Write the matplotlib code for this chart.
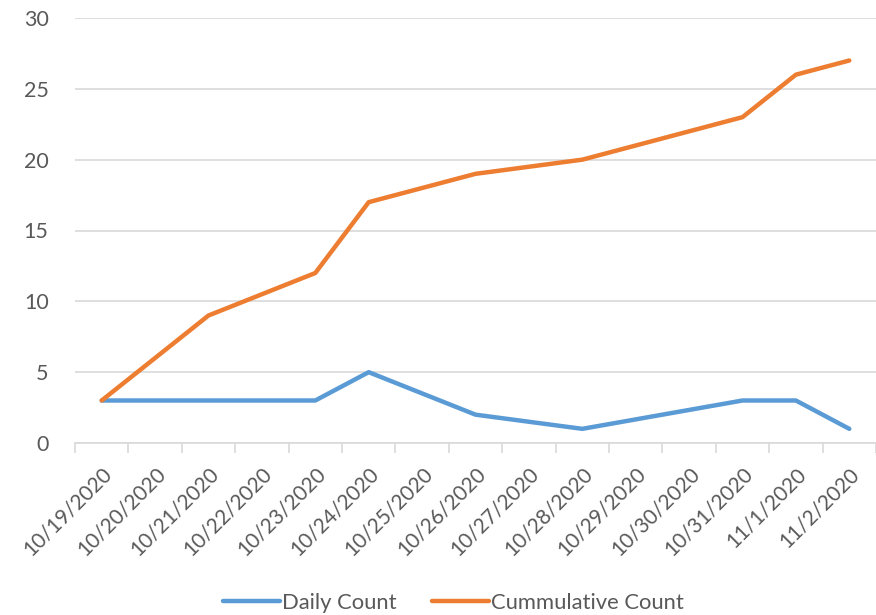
import matplotlib
matplotlib.use("Agg")
import matplotlib.pyplot as plt

categories = ["10/19/2020", "10/20/2020", "10/21/2020", "10/22/2020", "10/23/2020",
              "10/24/2020", "10/25/2020", "10/26/2020", "10/27/2020", "10/28/2020",
              "10/29/2020", "10/30/2020", "10/31/2020", "11/1/2020", "11/2/2020"]

daily_dates = ["10/19/2020", "10/21/2020", "10/23/2020", "10/24/2020", "10/26/2020",
               "10/28/2020", "10/31/2020", "11/1/2020", "11/2/2020"]
daily_values = [3, 3, 3, 5, 2, 1, 3, 3, 1]

cum_dates = daily_dates
cum_values = [3, 9, 12, 17, 19, 20, 23, 26, 27]

plt.rcParams['font.family'] = ['Lato', 'DejaVu Sans']
text_color = '#595959'

fig = plt.figure(figsize=(8.76, 6.15), dpi=100)
ax = fig.add_axes([75/876, 1-443/615, 1-75/876, (443-18)/615])

idx = {c: i for i, c in enumerate(categories)}
ax.plot([idx[d] for d in daily_dates], daily_values, color='#5B9BD5', lw=3.2,
        solid_capstyle='round', solid_joinstyle='round', label='Daily Count', zorder=3)
ax.plot([idx[d] for d in cum_dates], cum_values, color='#ED7D31', lw=3.2,
        solid_capstyle='round', solid_joinstyle='round', label='Cummulative Count', zorder=3)

ax.set_xlim(-0.5, len(categories) - 0.5)
ax.set_ylim(0, 30)
ax.set_yticks(range(0, 31, 5))
ax.yaxis.grid(True, color='#D9D9D9', lw=1.2)
ax.set_axisbelow(True)
for s in ['top', 'right', 'left']:
    ax.spines[s].set_visible(False)
ax.spines['bottom'].set_color('#D9D9D9')
ax.spines['bottom'].set_linewidth(1.2)

ax.set_xticks(range(len(categories)))
ax.set_xticklabels(categories, rotation=45, ha='right', va='top', rotation_mode='anchor',
                   color=text_color, fontsize=15)
ax.tick_params(axis='x', length=0, pad=15)
ax.set_xticks([i - 0.5 for i in range(len(categories) + 1)], minor=True)
ax.tick_params(axis='x', which='minor', length=7, color='#D9D9D9', width=1.2)
ax.tick_params(axis='y', length=0, pad=19, labelcolor=text_color, labelsize=15.5)

leg = fig.legend(loc='center', bbox_to_anchor=(0.518, 0.02), ncol=2, frameon=False,
                 fontsize=15.8, handlelength=2.6, columnspacing=1.6, handletextpad=0.1)
for t in leg.get_texts():
    t.set_color(text_color)

fig.savefig('out.png', dpi=100)
